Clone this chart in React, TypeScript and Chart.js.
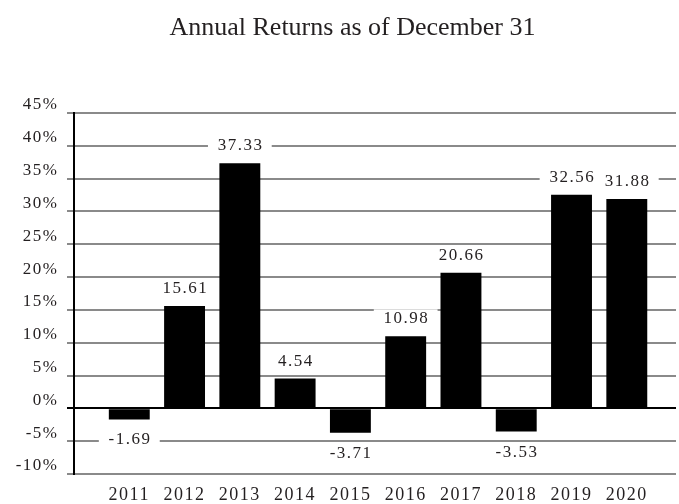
import React, { useEffect, useRef } from "react";
import { Chart, registerables } from "chart.js";

Chart.register(...registerables);

const years = [2011, 2012, 2013, 2014, 2015, 2016, 2017, 2018, 2019, 2020];
const returns = [-1.69, 15.61, 37.33, 4.54, -3.71, 10.98, 20.66, -3.53, 32.56, 31.88];
const yMin = -10;
const yMax = 45;
const yStep = 5;
const titleText = "Annual Returns as of December 31";

const FONT = '"Liberation Serif", "Times New Roman", serif';
const TEXT = "#231f20";
const GRID = "#8a8a8a";
const SPACING = "1.5px";

const spacingPlugin = {
  id: "spacing",
  beforeLayout(chart: any) {
    chart.ctx.letterSpacing = SPACING;
  },
  beforeDraw(chart: any) {
    chart.ctx.letterSpacing = SPACING;
  },
};

const labelY = (bar: any, v: number) => (v >= 0 ? bar.y - 19 : bar.y + 19);

const labelPlugin = {
  id: "valueLabels",
  beforeDatasetsDraw(chart: any) {
    const ctx = chart.ctx;
    const meta = chart.getDatasetMeta(0);
    ctx.save();
    ctx.letterSpacing = SPACING;
    ctx.font = `17px ${FONT}`;
    meta.data.forEach((bar: any, i: number) => {
      const v = returns[i];
      const w = ctx.measureText(v.toFixed(2)).width;
      const cy = labelY(bar, v);
      ctx.fillStyle = "#ffffff";
      ctx.fillRect(bar.x - w / 2 - 9, cy - 8, w + 18, 16);
    });
    ctx.restore();
  },
  afterDatasetsDraw(chart: any) {
    const ctx = chart.ctx;
    const meta = chart.getDatasetMeta(0);
    ctx.save();
    ctx.letterSpacing = SPACING;
    ctx.font = `17px ${FONT}`;
    ctx.textAlign = "center";
    ctx.textBaseline = "alphabetic";
    ctx.fillStyle = TEXT;
    meta.data.forEach((bar: any, i: number) => {
      const v = returns[i];
      ctx.fillText(v.toFixed(2), bar.x + 0.75, labelY(bar, v) + 6);
    });
    ctx.restore();
  },
  afterDraw(chart: any) {
    const ctx = chart.ctx;
    ctx.save();
    ctx.letterSpacing = "0px";
    ctx.font = `26px ${FONT}`;
    ctx.textAlign = "center";
    ctx.textBaseline = "alphabetic";
    ctx.fillStyle = TEXT;
    ctx.fillText(titleText, 352.5, 35);
    ctx.restore();
  },
};

export default function App() {
  const ref = useRef<HTMLCanvasElement>(null);
  useEffect(() => {
    document.body.style.margin = "0";
    const chart = new Chart(ref.current as HTMLCanvasElement, {
      type: "bar",
      data: {
        datasets: [
          {
            data: years.map((y, i) => ({ x: y, y: returns[i] })),
            backgroundColor: "#000000",
            borderWidth: 0,
            barPercentage: 0.74,
            categoryPercentage: 1,
          },
        ],
      },
      options: {
        responsive: false,
        animation: false,
        layout: { padding: { left: 0, right: 3, top: 113, bottom: 0 } },
        plugins: {
          legend: { display: false },
          tooltip: { enabled: false },
          title: { display: false },
        },
        scales: {
          x: {
            type: "linear",
            position: "bottom",
            offset: false,
            min: 2010,
            max: 2020.89,
            grid: { display: false, drawTicks: false, offset: false },
            border: { display: false },
            afterBuildTicks: (scale: any) => {
              scale.ticks = years.map((y) => ({ value: y }));
            },
            afterFit: (scale: any) => {
              scale.height = 30;
            },
            ticks: {
              autoSkip: false,
              maxRotation: 0,
              padding: 10,
              color: TEXT,
              font: { family: FONT, size: 18 },
              callback: (v: any) => String(v),
            },
          },
          y: {
            min: yMin,
            max: yMax,
            afterFit: (scale: any) => {
              scale.width = 74;
            },
            grid: {
              color: (c: any) => (c.tick && c.tick.value === 0 ? "#000000" : GRID),
              lineWidth: 2,
              tickLength: 7,
              drawTicks: true,
            },
            border: { display: true, color: "#000000", width: 2 },
            ticks: {
              stepSize: yStep,
              padding: 8.5,
              labelOffset: -8,
              color: TEXT,
              font: { family: FONT, size: 17 },
              callback: (v: any) => `${v}%`,
            },
          },
        },
      } as any,
      plugins: [spacingPlugin, labelPlugin],
    });
    return () => chart.destroy();
  }, []);
  return (
    <div style={{ width: 679, height: 504 }}>
      <canvas ref={ref} width={679} height={504} />
    </div>
  );
}
